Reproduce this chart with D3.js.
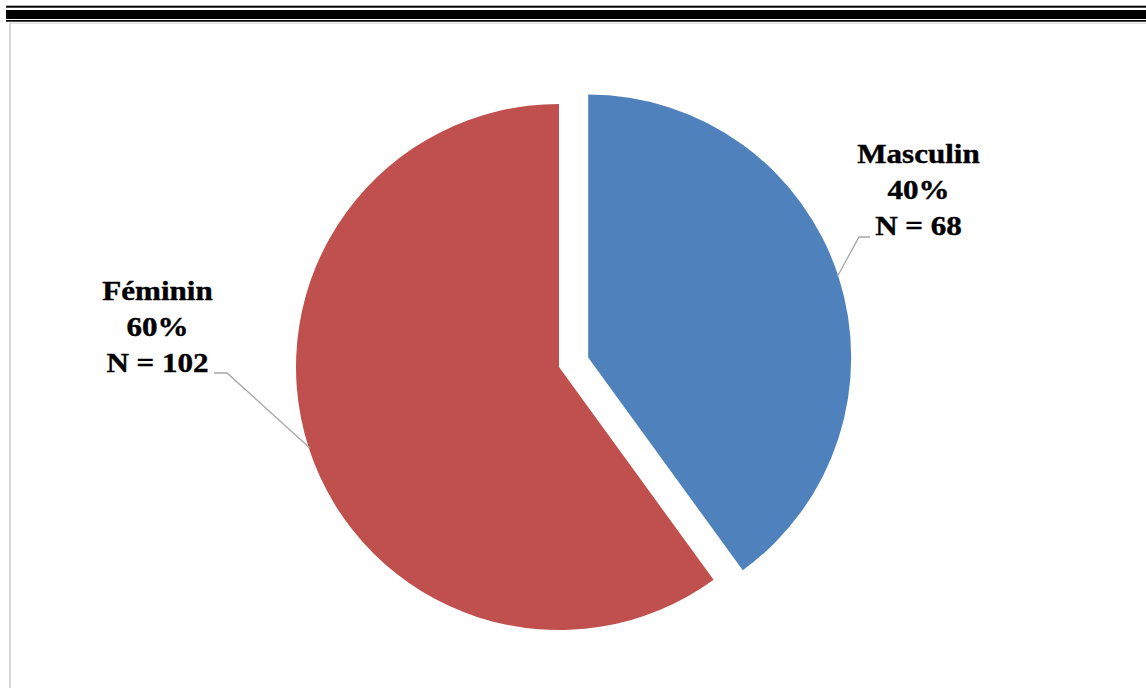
<!DOCTYPE html>
<meta charset="utf-8">
<style>
body { margin: 0; background: #fff; }
.lbl text { font-family: "Liberation Serif", serif; font-weight: bold; font-size: 27px; fill: #000; stroke: #000; stroke-width: 0.4px; }
</style>
<svg width="1146" height="688"></svg>
<script src="https://d3js.org/d3.v7.min.js"></script>
<script>

var categories = ["Masculin", "Féminin"];
var counts = [68, 102];
var percents = [40, 60];
var colors = ["#4F81BD", "#C0504D"];

var svg = d3.select("svg"),
    width = +svg.attr("width"),
    height = +svg.attr("height");

// page frame: double rule on top, grey border left
svg.append("rect").attr("x", 6).attr("y", 5.7).attr("width", width).attr("height", 2).attr("fill", "#000");
svg.append("rect").attr("x", 6).attr("y", 10).attr("width", width).attr("height", 9).attr("fill", "#000");
svg.append("rect").attr("x", 6).attr("y", 20).attr("width", width).attr("height", 1.7).attr("fill", "#000");
svg.append("rect").attr("x", 9).attr("y", 22.5).attr("width", width).attr("height", 1.5).attr("fill", "#e3e3e3");
svg.append("rect").attr("x", 9).attr("y", 22.5).attr("width", 2).attr("height", height).attr("fill", "#d9d9d9");

var cx = 559, cy = 367, radius = 263;
var explode = [30.7, 0];   // Masculin slice pulled out

// label anchor (centre x, first baseline) and the elbow of the leader line
var labelPos = [[918.5, 162.5], [157.5, 299.5]];
var elbow = [[[859, 237], [870, 237]], [[227, 373], [214, 373]]];
var lineGap = 36.4;

var data = categories.map(function(c, i) {
  return {name: c, n: counts[i], pct: percents[i], color: colors[i], i: i};
});

var pie = d3.pie().sort(null).value(function(d) { return d.n; });
var arc = d3.arc().innerRadius(0).outerRadius(radius);

var arcs = pie(data);

var g = svg.append("g").attr("transform", "translate(" + cx + "," + cy + ")");

var slices = g.selectAll("path")
  .data(arcs)
  .enter()
  .append("path")
  .attr("d", arc)
  .attr("fill", function(d) { return d.data.color; })
  .attr("transform", function(d) {
    var a = (d.startAngle + d.endAngle) / 2;
    var e = explode[d.data.i];
    return "translate(" + (Math.sin(a) * e) + "," + (-Math.cos(a) * e) + ")";
  });

// leader lines from the slice edge to the label
arcs.forEach(function(d) {
  var a = (d.startAngle + d.endAngle) / 2;
  var e = explode[d.data.i];
  var x0 = cx + Math.sin(a) * (radius + e - 1);
  var y0 = cy - Math.cos(a) * (radius + e - 1);
  var pts = [[x0, y0]].concat(elbow[d.data.i]);
  svg.append("path")
    .attr("d", d3.line()(pts))
    .attr("fill", "none")
    .attr("stroke", "#a6a6a6")
    .attr("stroke-width", 1.3);
});

var labels = svg.selectAll("g.lbl")
  .data(arcs)
  .enter()
  .append("g")
  .attr("class", "lbl")
  .attr("transform", function(d) {
    var p = labelPos[d.data.i];
    return "translate(" + p[0] + "," + p[1] + ") scale(1.15,1)";
  });

labels.each(function(d) {
  var lines = [d.data.name, d.data.pct + "%", "N = " + d.data.n];
  d3.select(this).selectAll("text")
    .data(lines)
    .enter()
    .append("text")
    .attr("text-anchor", "middle")
    .attr("y", function(t, k) { return k * lineGap; })
    .text(function(t) { return t; });
});

</script>
